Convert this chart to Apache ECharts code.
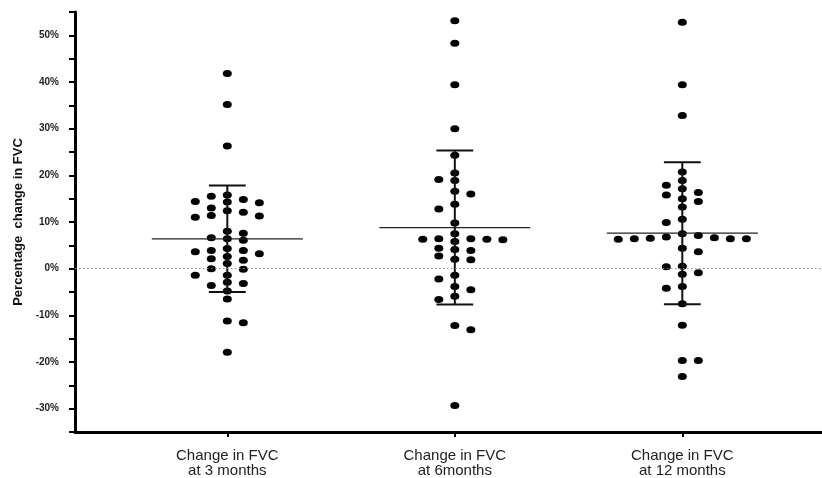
<!DOCTYPE html>
<html>
<head>
<meta charset="utf-8">
<script src="https://cdn.jsdelivr.net/npm/echarts@6.0.0/dist/echarts.min.js"></script>
<style>
html, body { margin: 0; padding: 0; background: #fff; }
#chart { width: 822px; height: 478px; }
</style>
</head>
<body>
<div id="chart"></div>
<script>
// ── data (percentage change in FVC) ──
const groupLabels = ["Change in FVC\nat 3 months", "Change in FVC\nat 6months", "Change in FVC\nat 12 months"];
const fvc3m = [41.8, 35.2, 26.3, 15.8, 15.5, 14.8, 14.4, 14.3, 14.1, 13.0, 12.4, 12.1, 11.4, 11.3, 11.0,
    8.0, 7.6, 6.6, 6.4, 6.1, 4.3, 3.9, 3.9, 3.6, 3.2, 2.6, 2.1, 1.8, 1.1, 0.0, -0.1, -1.4, -1.4,
    -2.9, -3.2, -3.6, -4.8, -6.5, -11.2, -11.6, -17.9];
const fvc6m = [53.1, 48.3, 39.4, 30.0, 24.3, 20.5, 19.1, 18.9, 16.6, 16.0, 13.8, 12.8, 9.8, 7.5,
    6.4, 6.4, 6.3, 6.3, 6.2, 5.8, 4.4, 4.1, 3.9, 2.7, 2.0, 1.9, -1.4, -2.2, -3.8, -4.5, -5.9, -6.6,
    -12.2, -13.1, -29.3];
const fvc12m = [52.8, 39.4, 32.8, 20.7, 18.9, 17.9, 17.1, 16.3, 15.8, 15.0, 14.4, 13.2, 10.6, 9.9,
    7.5, 7.1, 6.8, 6.6, 6.5, 6.4, 6.4, 6.4, 6.3, 4.4, 3.6, 0.5, 0.4, -0.9, -1.2, -3.8, -4.2, -7.5,
    -12.1, -19.7, -19.7, -23.1];
const groupMeans = [6.4, 8.8, 7.6];
const groupSDs = [11.4, 16.5, 15.2];

// ── layout constants ──
var X_MIN = 0.3305, X_MAX = 3.614;      // category centres at 1, 2, 3
var SLOT = 0.0352;                      // horizontal step of the dot swarm (≈ half a dot spacing)
var DOT_H = 1.5;                        // dot height in % units
var MEAN_HALF = 0.332, CAP_HALF = 0.081;

// greedy swarm: dots keep their value, shift sideways until they do not collide
function swarm(values, centre) {
    var sorted = values.slice().sort(function(a, b) { return b - a; });
    var placed = [];
    var leftFirst = true;
    sorted.forEach(function(v) {
        var cands = [0];
        for (var k = 1; k <= 14; k++) cands.push(leftFirst ? -k : k, leftFirst ? k : -k);
        var slot = 0;
        for (var i = 0; i < cands.length; i++) {
            var c = cands[i];
            var hit = placed.some(function(p) { return Math.abs(p.s - c) < 2 && Math.abs(p.v - v) < DOT_H; });
            if (!hit) { slot = c; break; }
        }
        if (slot !== 0) leftFirst = slot > 0;
        placed.push({ v: v, s: slot });
    });
    return placed.map(function(p) { return [centre + p.s * SLOT, p.v]; });
}

var dots = [].concat(swarm(fvc3m, 1), swarm(fvc6m, 2), swarm(fvc12m, 3));
var stats = groupMeans.map(function(m, i) { return [i + 1, m, groupSDs[i]]; });

var chart = echarts.init(document.getElementById("chart"));
chart.setOption({
    animation: false,
    grid: { left: 75, right: 0, top: 12, bottom: 46, outerBoundsMode: "none" },
    xAxis: {
        type: "value", min: X_MIN, max: X_MAX,
        axisLine: { onZero: false, lineStyle: { color: "#000", width: 3 } },
        axisTick: { show: true, customValues: [1, 2, 3], length: 5, lineStyle: { color: "#000", width: 2 } },
        axisLabel: {
            customValues: [1, 2, 3],
            formatter: function(v) { return groupLabels[Math.round(v) - 1]; },
            fontFamily: "Liberation Sans", fontSize: 15, lineHeight: 15, color: "#222", margin: 16,
        },
        splitLine: { show: false },
    },
    yAxis: {
        type: "value", min: -35, max: 55, interval: 5,
        name: "Percentage  change in FVC", nameLocation: "middle", nameGap: 44,
        nameTextStyle: { fontFamily: "Liberation Sans", fontWeight: "bold", fontSize: 13, color: "#111" },
        axisLine: { show: true, onZero: false, lineStyle: { color: "#000", width: 3 } },
        axisTick: { show: true, length: 6, lineStyle: { color: "#000", width: 2 } },
        axisLabel: {
            formatter: function(v) { return v % 10 === 0 ? v + "%" : ""; },
            fontFamily: "Liberation Sans", fontWeight: "bold", fontSize: 10, color: "#222", margin: 16,
        },
        splitLine: { show: false },
    },
    series: [
        {
            type: "scatter", data: dots, symbol: "circle", symbolSize: [9, 7],
            itemStyle: { color: "#000", opacity: 1 }, z: 3,
            markLine: {
                silent: true, symbol: ["none", "none"], label: { show: false },
                lineStyle: { color: "#888", width: 1, type: [1.5, 2.5] },
                data: [{ yAxis: 0 }],
            },
        },
        {
            type: "custom", data: stats, z: 4, silent: true,
            renderItem: function(params, api) {
                var x = api.value(0), m = api.value(1), sd = api.value(2);
                var ml = api.coord([x - MEAN_HALF, m]), mr = api.coord([x + MEAN_HALF, m]);
                var top = api.coord([x, m + sd]), bot = api.coord([x, m - sd]);
                var tl = api.coord([x - CAP_HALF, m + sd]), tr = api.coord([x + CAP_HALF, m + sd]);
                var bl = api.coord([x - CAP_HALF, m - sd]), br = api.coord([x + CAP_HALF, m - sd]);
                var st = { stroke: "#111", lineWidth: 2 };
                return {
                    type: "group",
                    children: [
                        { type: "line", shape: { x1: ml[0], y1: ml[1], x2: mr[0], y2: mr[1] }, style: { stroke: "#222", lineWidth: 1.3 } },
                        { type: "line", shape: { x1: top[0], y1: top[1], x2: bot[0], y2: bot[1] }, style: st },
                        { type: "line", shape: { x1: tl[0], y1: tl[1], x2: tr[0], y2: tr[1] }, style: st },
                        { type: "line", shape: { x1: bl[0], y1: bl[1], x2: br[0], y2: br[1] }, style: st },
                    ],
                };
            },
        },
    ],
});
</script>
</body>
</html>
